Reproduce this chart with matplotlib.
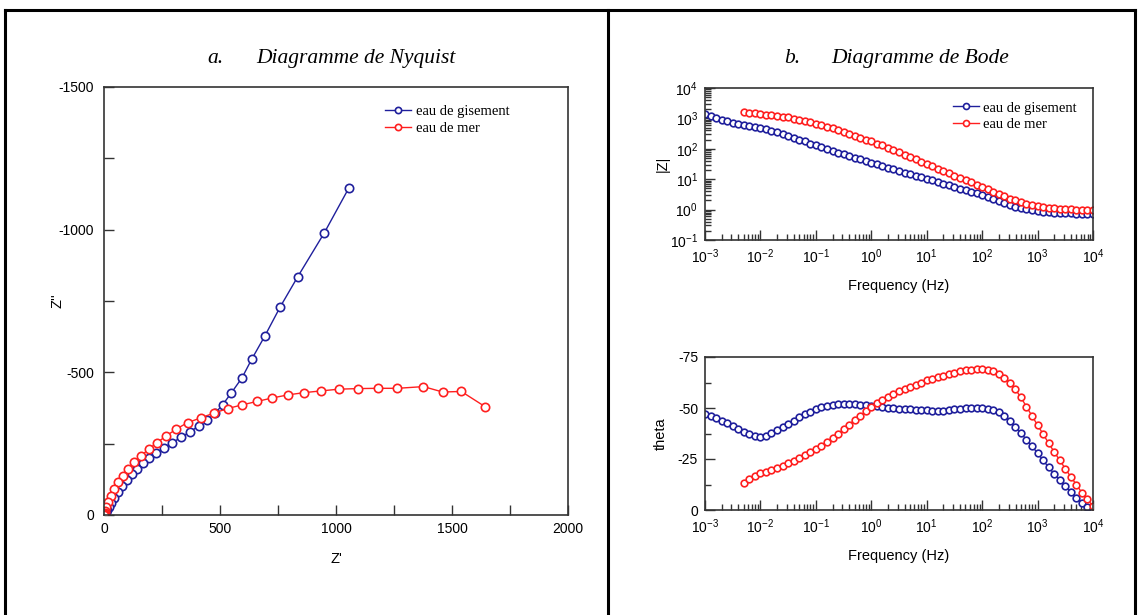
import math
import matplotlib
matplotlib.use("Agg")
import matplotlib.pyplot as plt
from matplotlib.lines import Line2D
from matplotlib.ticker import MultipleLocator, LogLocator, FuncFormatter, NullFormatter

plt.rcParams['font.family'] = ['Liberation Sans', 'DejaVu Sans']
plt.rcParams['mathtext.fontset'] = 'custom'
plt.rcParams['mathtext.rm'] = 'Liberation Sans'
plt.rcParams['mathtext.it'] = 'Liberation Sans:italic'
plt.rcParams['axes.unicode_minus'] = False

# ---------------------------------------------------------------- data
# Nyquist: real part Z' and imaginary part Z'' (ohm)
nyq_gisement_re = [1056, 949, 835, 760, 693, 636, 595, 548, 512, 478, 444, 408,
                   370, 332, 295, 260, 226, 195, 168, 143, 120, 98, 78, 60,
                   45, 32, 21, 13, 8, 5, 3, 2, 1.5, 1]
nyq_gisement_im = [-1147, -988, -835, -730, -627, -545, -481, -427, -387, -356,
                   -333, -312, -291, -272, -254, -236, -218, -200, -181, -162,
                   -142, -121, -100, -80, -60, -42, -27, -16, -9, -5, -3,
                   -1.5, -0.8, -0.5]
nyq_mer_re = [1642, 1540, 1460, 1377, 1265, 1179, 1093, 1012, 937, 864, 793,
              724, 660, 595, 533, 473, 416, 361, 311, 268, 229, 193, 159, 130,
              104, 81, 61, 44, 29, 17, 9, 5, 3, 2, 1.2, 1, 1]
nyq_mer_im = [-380, -433, -431, -450, -444, -444, -443, -441, -435, -429,
              -421, -410, -398, -386, -373, -357, -340, -324, -301, -277,
              -254, -231, -207, -184, -161, -137, -114, -91, -67, -45, -27,
              -15, -8, -4, -2, -1, -0.3]

# Bode: frequency sweep (Hz)
freq_gisement = [
    1.00e-3, 1.26e-3, 1.58e-3, 2.00e-3, 2.51e-3, 3.16e-3, 3.98e-3, 5.01e-3, 6.31e-3, 7.94e-3,
    1.00e-2, 1.26e-2, 1.58e-2, 2.00e-2, 2.51e-2, 3.16e-2, 3.98e-2, 5.01e-2, 6.31e-2, 7.94e-2,
    1.00e-1, 1.26e-1, 1.58e-1, 2.00e-1, 2.51e-1, 3.16e-1, 3.98e-1, 5.01e-1, 6.31e-1, 7.94e-1,
    1.00e0, 1.26e0, 1.58e0, 2.00e0, 2.51e0, 3.16e0, 3.98e0, 5.01e0, 6.31e0, 7.94e0,
    1.00e1, 1.26e1, 1.58e1, 2.00e1, 2.51e1, 3.16e1, 3.98e1, 5.01e1, 6.31e1, 7.94e1,
    1.00e2, 1.26e2, 1.58e2, 2.00e2, 2.51e2, 3.16e2, 3.98e2, 5.01e2, 6.31e2, 7.94e2,
    1.00e3, 1.26e3, 1.58e3, 2.00e3, 2.51e3, 3.16e3, 3.98e3, 5.01e3, 6.31e3, 7.94e3,
    1.00e4]
freq_mer = freq_gisement[7:]

modz_gisement = [
    1432, 1202, 1000, 891, 813, 724, 676, 617, 575, 525,
    490, 447, 398, 355, 316, 269, 234, 200, 174, 148,
    129, 112, 98, 85, 74, 65, 58, 51, 45, 40,
    35, 31, 27.5, 24, 21.4, 18.6, 16.6, 15.1, 13.2, 11.7,
    10.2, 9.1, 7.9, 7.1, 6.3, 5.5, 4.9, 4.3, 3.8, 3.4,
    2.95, 2.63, 2.24, 1.95, 1.66, 1.45, 1.26, 1.15, 1.05, 0.97,
    0.89, 0.85, 0.81, 0.79, 0.78, 0.76, 0.76, 0.74, 0.74, 0.74,
    0.74]
modz_mer = [
    1622, 1549, 1479,
    1413, 1318, 1259, 1202, 1148, 1072, 977, 912, 832, 741,
    676, 617, 537, 479, 427, 363, 316, 269, 234, 200,
    174, 148, 129, 107, 89, 76, 63, 54, 45, 38,
    32, 26.3, 22.4, 18.6, 15.8, 13.2, 11.2, 9.3, 7.8, 6.6,
    5.5, 4.6, 3.9, 3.2, 2.75, 2.29, 2.0, 1.74, 1.58, 1.45,
    1.35, 1.23, 1.17, 1.12, 1.07, 1.05, 1.02, 1.0, 1.0, 0.98,
    0.98]

theta_gisement = [
    -47.1, -46.1, -45.0, -43.8, -42.5, -41.2, -39.6, -38.1, -37.2, -36.4,
    -36.0, -36.5, -37.7, -39.1, -40.6, -42.2, -43.7, -45.5, -47.1, -48.2,
    -49.4, -50.3, -51.1, -51.5, -51.8, -51.9, -51.9, -51.8, -51.6, -51.5,
    -51.1, -50.8, -50.5, -50.2, -49.8, -49.7, -49.5, -49.4, -49.2, -49.0,
    -48.9, -48.7, -48.5, -48.7, -49.0, -49.4, -49.7, -49.8, -50.0, -50.0,
    -50.0, -49.7, -49.0, -47.9, -46.3, -43.8, -40.9, -37.7, -34.4, -31.2,
    -27.9, -24.4, -20.9, -17.7, -14.6, -11.7, -8.8, -6.0, -3.6, -1.5,
    -0.3]
theta_mer = [
    -13.0, -15.3, -16.9,
    -17.9, -18.8, -19.8, -20.8, -21.8, -22.9, -24.0, -25.3, -26.8, -28.2,
    -29.9, -31.5, -33.4, -35.4, -37.5, -39.6, -41.9, -44.2, -46.3, -48.4,
    -50.3, -52.3, -53.9, -55.5, -57.0, -58.3, -59.4, -60.4, -61.5, -62.5,
    -63.5, -64.3, -65.1, -65.9, -66.6, -67.2, -68.0, -68.5, -68.8, -69.0,
    -69.0, -68.8, -68.2, -66.9, -64.9, -62.3, -59.1, -55.2, -50.6, -46.1,
    -41.6, -37.2, -32.8, -28.4, -24.4, -20.3, -16.2, -12.5, -8.4, -5.2,
    -1.9]

series_labels = ["eau de gisement", "eau de mer"]
BLUE = "#1f1f9c"
RED = "#ff1f1f"

# ---------------------------------------------------------------- figure
W, H = 1139, 615
fig = plt.figure(figsize=(W / 100, H / 100), dpi=100)


def px_axes(left, top, right, bottom):
    return fig.add_axes([left / W, 1 - bottom / H, (right - left) / W, (bottom - top) / H])


def frame_line(x0, y0, x1, y1):
    fig.add_artist(Line2D([x0 / W, x1 / W], [1 - y0 / H, 1 - y1 / H],
                          transform=fig.transFigure, color="black", lw=2.2))


# table-like frame around the two panels
frame_line(5, 10, 1135, 10)
frame_line(5, 10, 5, 615)
frame_line(608, 10, 608, 615)
frame_line(1135, 10, 1135, 615)

title_kw = dict(family="Liberation Serif", style="italic", fontsize=15.5, va="baseline")
fig.text(207 / W, 1 - 63 / H, "a.", **title_kw)
fig.text(256 / W, 1 - 63 / H, "Diagramme de Nyquist", **title_kw)
fig.text(784 / W, 1 - 63 / H, "b.", **title_kw)
fig.text(831 / W, 1 - 63 / H, "Diagramme de Bode", **title_kw)

TICK_FS = 10
LABEL_FS = 10.5
SPINE_C = "#333333"
legend_font = dict(family="Liberation Serif", size=10.5)


def style_axes(ax):
    for sp in ax.spines.values():
        sp.set_color(SPINE_C)
        sp.set_linewidth(1.2)
    ax.tick_params(which="both", direction="in", top=False, right=False,
                   labelsize=TICK_FS, color=SPINE_C, width=1, pad=5)


def pow10(v, pos):
    return r"$\mathregular{10^{%d}}$" % round(math.log10(v))


# ---------------------------------------------------------------- Nyquist
ax1 = px_axes(104, 87, 568, 515)
ax1.plot(nyq_gisement_re, nyq_gisement_im, "-o", color=BLUE, lw=1, ms=6,
         mfc="white", mew=1.2, label=series_labels[0])
ax1.plot(nyq_mer_re, nyq_mer_im, "-o", color=RED, lw=1, ms=6,
         mfc="white", mew=1.2, label=series_labels[1])
ax1.set_xlim(0, 2000)
ax1.set_ylim(0, -1500)
ax1.xaxis.set_major_locator(MultipleLocator(500))
ax1.xaxis.set_minor_locator(MultipleLocator(250))
ax1.yaxis.set_major_locator(MultipleLocator(500))
ax1.yaxis.set_minor_locator(MultipleLocator(250))
style_axes(ax1)
ax1.tick_params(which="both", length=7)
ax1.tick_params(axis="y", pad=7)
ax1.set_xlabel("Z'", fontsize=LABEL_FS)
ax1.set_ylabel("Z''", fontsize=LABEL_FS)
ax1.xaxis.set_label_coords(0.5, -0.086)
ax1.yaxis.set_label_coords(-0.086, 0.5)
ax1.legend(loc="upper left", bbox_to_anchor=(0.59, 0.975), frameon=False,
           prop=legend_font, handlelength=1.8, handletextpad=0.3,
           markerscale=0.75, borderpad=0, labelspacing=0.25)

# ---------------------------------------------------------------- Bode |Z|
BODE_MS = 4.8
ax2 = px_axes(705, 88, 1093, 240)
ax2.loglog(freq_gisement, modz_gisement, "-o", color=BLUE, lw=1, ms=BODE_MS,
           mfc="white", mew=1.2, label=series_labels[0])
ax2.loglog(freq_mer, modz_mer, "-o", color=RED, lw=1, ms=BODE_MS,
           mfc="white", mew=1.2, label=series_labels[1])
ax2.set_xlim(1e-3, 1e4)
ax2.set_ylim(1e-1, 1e4)

# ---------------------------------------------------------------- Bode phase
ax3 = px_axes(705, 357, 1093, 510)
ax3.semilogx(freq_gisement, theta_gisement, "-o", color=BLUE, lw=1, ms=BODE_MS,
             mfc="white", mew=1.2)
ax3.semilogx(freq_mer, theta_mer, "-o", color=RED, lw=1, ms=BODE_MS,
             mfc="white", mew=1.2)
ax3.set_xlim(1e-3, 1e4)
ax3.set_ylim(0, -75)
ax3.yaxis.set_major_locator(MultipleLocator(25))
ax3.yaxis.set_minor_locator(MultipleLocator(12.5))

for ax in (ax2, ax3):
    ax.xaxis.set_major_locator(LogLocator(base=10, numticks=20))
    ax.xaxis.set_minor_locator(LogLocator(base=10, subs=range(2, 10), numticks=20))
    ax.xaxis.set_major_formatter(FuncFormatter(pow10))
    ax.xaxis.set_minor_formatter(NullFormatter())
    style_axes(ax)
    ax.tick_params(which="major", length=7)
    ax.tick_params(which="minor", length=4)
    ax.set_xlabel("Frequency (Hz)", fontsize=LABEL_FS)
    ax.xaxis.set_label_coords(0.5, -0.255)

ax2.yaxis.set_major_locator(LogLocator(base=10, numticks=20))
ax2.yaxis.set_minor_locator(LogLocator(base=10, subs=range(2, 10), numticks=20))
ax2.yaxis.set_major_formatter(FuncFormatter(pow10))
ax2.yaxis.set_minor_formatter(NullFormatter())
ax2.set_ylabel("|Z|", fontsize=LABEL_FS)
ax2.yaxis.set_label_coords(-0.092, 0.5)
ax2.legend(loc="upper left", bbox_to_anchor=(0.62, 0.96), frameon=False,
           prop=legend_font, handlelength=1.8, handletextpad=0.3,
           markerscale=0.9, borderpad=0, labelspacing=0.2)

ax3.set_ylabel("theta", fontsize=LABEL_FS)
ax3.yaxis.set_label_coords(-0.095, 0.5)

fig.savefig("out.png", dpi=100)
